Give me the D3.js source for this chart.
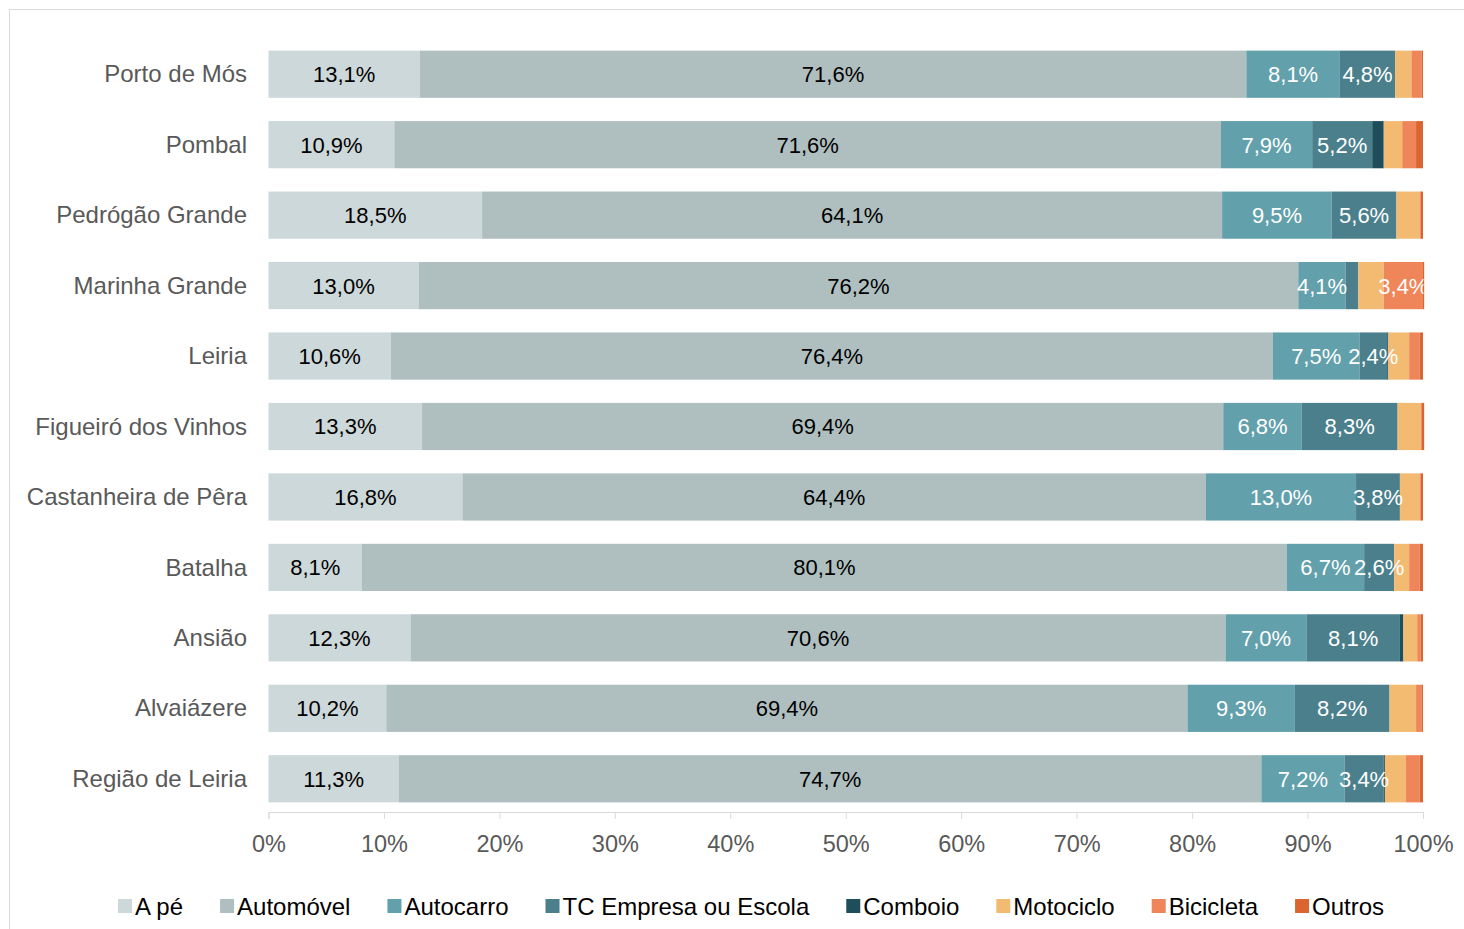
<!DOCTYPE html>
<html>
<head>
<meta charset="utf-8">
<script src="https://cdn.jsdelivr.net/npm/d3@7"></script>
<style>
  body { margin: 0; background: #fff; }
  svg { display: block; font-family: "Liberation Sans", Arial, sans-serif; }
</style>
</head>
<body>
<script>
// DATA
const municipios = ["Porto de Mós", "Pombal", "Pedrógão Grande", "Marinha Grande", "Leiria",
    "Figueiró dos Vinhos", "Castanheira de Pêra", "Batalha", "Ansião", "Alvaiázere", "Região de Leiria"];
const modos = ["A pé", "Automóvel", "Autocarro", "TC Empresa ou Escola", "Comboio", "Motociclo", "Bicicleta", "Outros"];

const aPe        = [13.1, 10.9, 18.5, 13.0, 10.6, 13.3, 16.8,  8.1, 12.3, 10.2, 11.3];
const automovel  = [71.6, 71.6, 64.1, 76.2, 76.4, 69.4, 64.4, 80.1, 70.6, 69.4, 74.7];
const autocarro  = [ 8.1,  7.9,  9.5,  4.1,  7.5,  6.8, 13.0,  6.7,  7.0,  9.3,  7.2];
const tcEmpresa  = [ 4.8,  5.2,  5.6,  1.1,  2.4,  8.3,  3.8,  2.6,  8.1,  8.2,  3.4];
const comboio    = [ 0.0,  1.0,  0.0,  0.0,  0.1,  0.0,  0.0,  0.0,  0.3,  0.0,  0.1];
const motociclo  = [ 1.4,  1.6,  2.0,  2.2,  1.8,  2.0,  1.7,  1.3,  1.2,  2.3,  1.8];
const bicicleta  = [ 0.9,  1.2,  0.1,  3.4,  0.9,  0.1,  0.1,  0.9,  0.3,  0.5,  1.2];
const outros     = [ 0.1,  0.6,  0.2,  0.1,  0.3,  0.2,  0.2,  0.3,  0.2,  0.1,  0.3];

const xTicks = [0, 10, 20, 30, 40, 50, 60, 70, 80, 90, 100];

const series = [aPe, automovel, autocarro, tcEmpresa, comboio, motociclo, bicicleta, outros];
const colors = ["#CDD8DA", "#AFBFBF", "#62A0AB", "#4B7F8C", "#1F4E5B", "#F3BA72", "#EE8659", "#DB6530"];
const labelColors = ["#000", "#000", "#fff", "#fff", "#fff", "#fff", "#fff", "#fff"];

const table = municipios.map((m, i) => {
    const row = { municipio: m };
    modos.forEach((k, j) => row[k] = series[j][i]);
    return row;
});

// SVG
const W = 1464, H = 929;
const svg = d3.select("body").append("svg").attr("width", W).attr("height", H);

// frame
svg.append("rect")
    .attr("x", 9.5).attr("y", 9.5)
    .attr("width", 1500).attr("height", 1000)
    .attr("fill", "none").attr("stroke", "#D9D9D9");

const xScale = d3.scaleLinear().domain([0, 100]).range([268.5, 1423]);
const yScale = d3.scaleBand().domain(municipios).range([39, 814]).paddingInner(0.33).paddingOuter(0.165);
const color = d3.scaleOrdinal().domain(modos).range(colors);

const stacked = d3.stack().keys(modos)(table);

svg.append("defs").append("clipPath").attr("id", "plotclip")
    .append("rect").attr("x", 268).attr("y", 0).attr("width", xScale(100) - 268 + 0.5).attr("height", H);

// BARS
const layers = svg.append("g").selectAll("g")
    .data(stacked).join("g")
    .attr("fill", d => color(d.key));

layers.selectAll("rect")
    .data(d => d)
    .join("rect")
    .attr("x", d => xScale(d[0]))
    .attr("y", d => yScale(d.data.municipio))
    .attr("width", d => Math.max(0, xScale(d[1]) - xScale(d[0])))
    .attr("height", yScale.bandwidth());

// DATA LABELS
const labels = svg.append("g").attr("clip-path", "url(#plotclip)");
stacked.forEach((layer, j) => {
    labels.selectAll(null)
        .data(layer.filter(d => d[1] - d[0] >= 2.4))
        .join("text")
        .attr("x", d => (xScale(d[0]) + xScale(d[1])) / 2)
        .attr("y", d => yScale(d.data.municipio) + yScale.bandwidth() / 2)
        .attr("dy", "0.36em")
        .attr("text-anchor", "middle")
        .attr("font-size", "22px")
        .attr("fill", labelColors[j])
        .text(d => (d[1] - d[0]).toFixed(1).replace(".", ",") + "%");
});

// CATEGORY LABELS
svg.append("g").selectAll("text")
    .data(municipios).join("text")
    .attr("x", 247)
    .attr("y", d => yScale(d) + yScale.bandwidth() / 2)
    .attr("dy", "0.34em")
    .attr("text-anchor", "end")
    .attr("font-size", "24px")
    .attr("fill", "#595959")
    .text(d => d);

// X AXIS
const xAxis = d3.axisBottom(xScale)
    .tickValues(xTicks)
    .tickSize(7)
    .tickPadding(16)
    .tickFormat(d => d + "%");

const gx = svg.append("g")
    .attr("transform", "translate(0,812)")
    .call(xAxis);
gx.select(".domain").attr("stroke", "#D9D9D9");
gx.selectAll(".tick line").attr("stroke", "#D9D9D9");
gx.selectAll(".tick text")
    .attr("font-size", "23.5px")
    .attr("font-family", "Liberation Sans, Arial, sans-serif")
    .attr("fill", "#595959");

// LEGEND
const legend = svg.append("g").attr("transform", "translate(0,906)");
let lx = 118;
modos.forEach((m, i) => {
    legend.append("rect")
        .attr("x", lx).attr("y", -7)
        .attr("width", 14).attr("height", 14)
        .attr("fill", colors[i]);
    const t = legend.append("text")
        .attr("x", lx + 17)
        .attr("y", 0)
        .attr("dy", "0.36em")
        .attr("font-size", "24px")
        .attr("fill", "#000")
        .text(m);
    lx += 17 + t.node().getComputedTextLength() + 37;
});
</script>
</body>
</html>
